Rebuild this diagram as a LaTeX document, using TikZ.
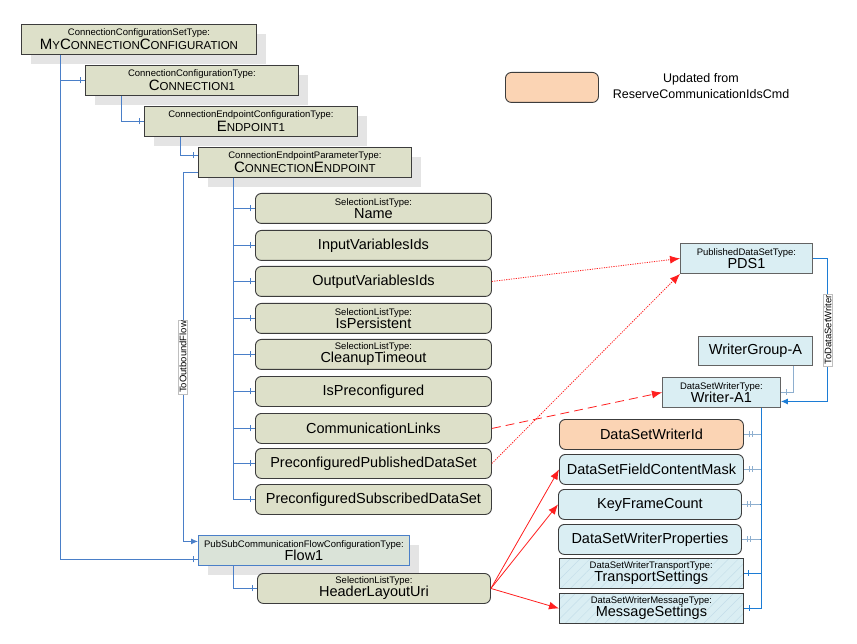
\documentclass[tikz,border=0pt]{standalone}
\usepackage{fontspec}
\setmainfont{Liberation Sans}
\usetikzlibrary{arrows.meta,calc,decorations.markings,patterns.meta,shadows}
\definecolor{beige}{HTML}{DDE0C9}
\definecolor{lblue}{HTML}{DAEEF3}
\definecolor{peach}{HTML}{FBD4B4}
\definecolor{shadowc}{HTML}{E4E4E4}
\definecolor{boxline}{HTML}{3C3C3C}
\definecolor{treeblue}{HTML}{4A7FC8}
\definecolor{strongblue}{HTML}{1C7CD5}
\definecolor{paleblue}{HTML}{8EAFCF}
\definecolor{flowfill}{HTML}{DAE3D8}
\definecolor{hatchc}{HTML}{C4DEEA}
\definecolor{redc}{HTML}{FF1E1E}
\newcommand{\typl}[1]{{\fontsize{9.5}{10}\selectfont #1}}
\newcommand{\scA}[1]{{\fontsize{15}{15}\selectfont #1}}
\newcommand{\scB}[1]{{\fontsize{11.5}{12}\selectfont #1}}
\begin{document}
\begin{tikzpicture}[x=1pt,y=-1pt,
  basebox/.style={draw=boxline, line width=0.9pt, anchor=north west, inner sep=0pt, align=center, font=\fontsize{14.5}{15}\selectfont},
  topbox/.style={basebox, fill=beige, drop shadow={shadow xshift=10pt, shadow yshift=-10pt, fill=shadowc, opacity=1}},
  childbox/.style={basebox, fill=beige, rounded corners=6pt, minimum width=236pt, minimum height=30pt},
  bluebox/.style={basebox, fill=lblue, draw=boxline!80},
  bluerbox/.style={basebox, fill=lblue, rounded corners=6pt, minimum width=184pt, minimum height=30pt},
  hatchbox/.style={basebox, preaction={fill=lblue}, pattern={Lines[angle=45,distance=7pt,line width=0.5pt]}, pattern color=hatchc, minimum width=184pt, minimum height=30pt},
  tree/.style={draw=treeblue, line width=0.9pt},
  onetick/.style={postaction={decorate, decoration={markings, mark=at position -5pt with {\draw[#1, line width=0.7pt] (0,-3pt) -- (0,3pt);}}}},
  twotick/.style={postaction={decorate, decoration={markings, mark=at position -5pt with {\draw[#1, line width=0.7pt] (0,-3pt) -- (0,3pt);}, mark=at position -8pt with {\draw[#1, line width=0.7pt] (0,-3pt) -- (0,3pt);}}}},
  redarrow/.style={draw=redc, line width=0.8pt, -{Latex[length=10pt,width=8pt]}},
  lbl/.style={rotate=90, fill=white, draw=black!25, line width=0.3pt, inner sep=1pt, font=\fontsize{9.5}{10}\selectfont}
]
\useasboundingbox (0,0) rectangle (857,644);

% top-level boxes
\node[topbox, minimum width=235pt, minimum height=30pt] (my) at (21,24)
  {\typl{ConnectionConfigurationSetType:}\\[-1pt]\scA{M}\scB{Y}\scA{C}\scB{ONNECTION}\scA{C}\scB{ONFIGURATION}};
\node[topbox, minimum width=213pt, minimum height=30pt] (c1) at (85,65)
  {\typl{ConnectionConfigurationType:}\\[-1pt]\scA{C}\scB{ONNECTION1}};
\node[topbox, minimum width=213pt, minimum height=30pt] (e1) at (144,106)
  {\typl{ConnectionEndpointConfigurationType:}\\[-1pt]\scA{E}\scB{NDPOINT1}};
\node[topbox, minimum width=213pt, minimum height=30pt] (ce) at (198,147)
  {\typl{ConnectionEndpointParameterType:}\\[-1pt]\scA{C}\scB{ONNECTION}\scA{E}\scB{NDPOINT}};

% children of ConnectionEndpoint
\node[childbox] (nm) at (255,193) {\typl{SelectionListType:}\\[-2pt]Name};
\node[childbox] (ivi) at (255,230) {InputVariablesIds};
\node[childbox] (ovi) at (255,266) {OutputVariablesIds};
\node[childbox] (ip) at (255,303) {\typl{SelectionListType:}\\[-2pt]IsPersistent};
\node[childbox] (ct) at (255,339) {\typl{SelectionListType:}\\[-2pt]CleanupTimeout};
\node[childbox] (ipc) at (255,376) {IsPreconfigured};
\node[childbox] (cl) at (255,413) {CommunicationLinks};
\node[childbox] (ppd) at (255,448) {PreconfiguredPublishedDataSet};
\node[childbox] (psd) at (255,484) {PreconfiguredSubscribedDataSet};

% flow
\node[topbox, fill=flowfill, draw=treeblue, minimum width=211pt, minimum height=30pt] (flow) at (198,535)
  {\typl{PubSubCommunicationFlowConfigurationType:}\\[-2pt]Flow1};
\node[childbox, minimum width=233pt] (hl) at (257,573) {\typl{SelectionListType:}\\[-2pt]HeaderLayoutUri};

% legend
\node[basebox, fill=peach, rounded corners=6pt, minimum width=93pt, minimum height=30pt] (leg) at (505,72) {};
\node[align=center, inner sep=0pt, font=\fontsize{12.5}{16}\selectfont] (legt) at (701,86) {Updated from\\ReserveCommunicationIdsCmd};

% right side
\node[bluebox, minimum width=132pt, minimum height=30pt] (pds) at (680,243) {\typl{PublishedDataSetType:}\\[-2pt]PDS1};
\node[bluebox, minimum width=114pt, minimum height=29pt] (wg) at (698,336) {WriterGroup-A};
\node[bluebox, minimum width=118pt, minimum height=30pt] (wa) at (662,377) {\typl{DataSetWriterType:}\\[-2pt]Writer-A1};

\node[bluerbox, fill=peach] (wid) at (559,419) {DataSetWriterId};
\node[bluerbox] (fcm) at (559,454) {DataSetFieldContentMask};
\node[bluerbox, minimum width=183pt] (kfc) at (558,489) {KeyFrameCount};
\node[bluerbox, minimum width=183pt] (wsp) at (558,524) {DataSetWriterProperties};
\node[hatchbox] (ts) at (559,558) {\typl{DataSetWriterTransportType:}\\[-2pt]TransportSettings};
\node[hatchbox] (ms) at (559,593) {\typl{DataSetWriterMessageType:}\\[-2pt]MessageSettings};

% tree connectors
\draw[tree, onetick=treeblue] ($(my.south west)+(39,0)$) |- (c1.west);
\draw[tree, onetick=treeblue] ($(my.south west)+(39,0)$) |- ($(flow.west)+(0,9)$);
\draw[tree, onetick=treeblue] ($(c1.south west)+(36,0)$) |- (e1.west);
\draw[tree, onetick=treeblue] ($(e1.south west)+(36,0)$) |- ($(ce.west)+(0,-7)$);
\draw[tree, -{Latex[length=7pt,width=6pt]}] ($(ce.west)+(0,10)$) -- ++(-15,0) |- ($(flow.west)+(0,-9)$)
  node[lbl, pos=0.25] {ToOutboundFlow};
\foreach \c in {nm,ivi,ovi,ip,ct,ipc,cl,ppd,psd}
  \draw[tree, onetick=treeblue] ($(ce.south west)+(35,0)$) |- (\c.west);
\draw[tree, onetick=treeblue] ($(flow.south west)+(35,0)$) |- (hl.west);

% right connectors
\draw[draw=strongblue, line width=0.9pt, -{Latex[length=7pt,width=6pt]}] (pds.east) -- ++(15,0) |- ($(wa.east)+(0,9)$)
  node[lbl, pos=0.25] {ToDataSetWriter};
\draw[draw=paleblue, line width=1pt, onetick=paleblue] ($(wg.south east)+(-19,0)$) |- (wa.east);
\foreach \c in {wid,fcm,kfc,wsp}
  \draw[draw=strongblue, line width=0.9pt] ($(wa.south east)+(-19,0)$) |- ($(\c.east)+(6,0)$);
\foreach \c in {wid,fcm,kfc,wsp}
  \draw[draw=paleblue, line width=1pt, twotick=paleblue] ($(\c.east)+(18,0)$) -- (\c.east);
\foreach \c in {ts,ms}
  \draw[draw=strongblue, line width=0.9pt, onetick=strongblue] ($(wa.south east)+(-19,0)$) |- (\c.east);

% red connectors
\draw[redarrow, dash pattern=on 1.2pt off 1.2pt] (ovi.east) -- (pds.west);
\draw[redarrow, dash pattern=on 1.2pt off 1.2pt] (ppd.east) -- (pds.south west);
\draw[redarrow, dash pattern=on 9pt off 5pt] (cl.east) -- (wa.west);
\draw[redarrow] (hl.east) -- (fcm.west);
\draw[redarrow] (hl.east) -- (kfc.west);
\draw[redarrow] (hl.east) -- (ms.west);
\end{tikzpicture}
\end{document}
